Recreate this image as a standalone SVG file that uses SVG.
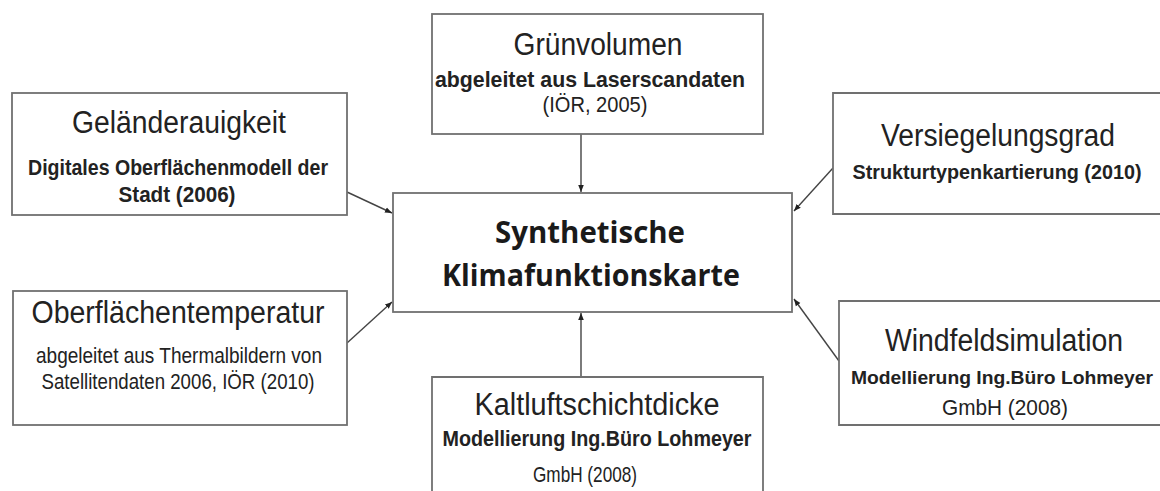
<svg xmlns="http://www.w3.org/2000/svg" width="1160" height="491" viewBox="0 0 1160 491">
  <style>
    .box { fill: #ffffff; stroke: #707070; stroke-width: 1.8; }
    .edge { fill: none; stroke: #707070; stroke-width: 1.8; }
    .title { font-family: "Liberation Sans", Arial, sans-serif; font-size: 31px; fill: #222222; text-anchor: middle; }
    .sub { font-family: "Liberation Sans", Arial, sans-serif; font-size: 22px; font-weight: bold; fill: #222222; text-anchor: middle; }
    .subn { font-family: "Liberation Sans", Arial, sans-serif; font-size: 20px; font-weight: bold; fill: #222222; text-anchor: middle; }
    .subs { font-family: "Liberation Sans", Arial, sans-serif; font-size: 18px; font-weight: bold; fill: #222222; text-anchor: middle; }
    .subr { font-family: "Liberation Sans", Arial, sans-serif; font-size: 22px; fill: #222222; text-anchor: middle; }
    .center { font-family: "Open Sans", "Noto Sans", sans-serif; font-size: 30px; font-weight: bold; fill: #1a1a1a; text-anchor: middle; }
    .conn { stroke: #444444; stroke-width: 1.4; fill: none; marker-end: url(#arrow); }
  </style>
  <defs>
    <marker id="arrow" viewBox="0 0 10 10" refX="10" refY="5" markerWidth="5" markerHeight="5" orient="auto" markerUnits="strokeWidth">
      <path d="M0,1 L10,5 L0,9 z" fill="#222222"/>
    </marker>
  </defs>
  <rect width="1160" height="491" fill="#ffffff"/>

  <g id="connectors">
    <line class="conn" x1="581" y1="134" x2="581" y2="192"/>
    <line class="conn" x1="347" y1="192" x2="392" y2="213"/>
    <line class="conn" x1="833" y1="168" x2="794" y2="211"/>
    <line class="conn" x1="347" y1="343" x2="392" y2="302"/>
    <line class="conn" x1="839" y1="361" x2="794" y2="299"/>
    <line class="conn" x1="581" y1="377" x2="581" y2="313"/>
  </g>

  <g id="node-gruenvolumen">
    <rect class="box" x="432" y="14" width="331" height="120"/>
    <text class="title" x="598" y="55" textLength="169" lengthAdjust="spacingAndGlyphs">Grünvolumen</text>
    <text class="sub" x="590" y="87" textLength="310" lengthAdjust="spacingAndGlyphs">abgeleitet aus Laserscandaten</text>
    <text class="subr" x="595" y="112" textLength="105" lengthAdjust="spacingAndGlyphs">(IÖR, 2005)</text>
  </g>

  <g id="node-gelaende">
    <rect class="box" x="12" y="93" width="335" height="122"/>
    <text class="title" x="179" y="133" textLength="214" lengthAdjust="spacingAndGlyphs">Geländerauigkeit</text>
    <text class="sub" x="178" y="175" textLength="300" lengthAdjust="spacingAndGlyphs">Digitales Oberflächenmodell der</text>
    <text class="sub" x="177" y="202" textLength="117" lengthAdjust="spacingAndGlyphs">Stadt (2006)</text>
  </g>

  <g id="node-versiegelung">
    <rect x="833" y="93" width="327" height="121" fill="#ffffff"/>
    <path class="edge" d="M1160,93 H833 V214 H1160"/>
    <text class="title" x="998" y="146" textLength="234" lengthAdjust="spacingAndGlyphs">Versiegelungsgrad</text>
    <text class="subn" x="997" y="179" textLength="289" lengthAdjust="spacingAndGlyphs">Strukturtypenkartierung (2010)</text>
  </g>

  <g id="node-synthetische">
    <rect class="box" x="393" y="193" width="399" height="119"/>
    <text class="center" x="590" y="243" textLength="190" lengthAdjust="spacingAndGlyphs">Synthetische</text>
    <text class="center" x="591" y="286" textLength="298" lengthAdjust="spacingAndGlyphs">Klimafunktionskarte</text>
  </g>

  <g id="node-oberflaeche">
    <rect class="box" x="13" y="291" width="334" height="134"/>
    <text class="title" x="178" y="323" textLength="293" lengthAdjust="spacingAndGlyphs">Oberflächentemperatur</text>
    <text class="subr" x="179" y="363" textLength="286" lengthAdjust="spacingAndGlyphs">abgeleitet aus Thermalbildern von</text>
    <text class="subr" x="178" y="389" textLength="273" lengthAdjust="spacingAndGlyphs">Satellitendaten 2006, IÖR (2010)</text>
  </g>

  <g id="node-windfeld">
    <rect x="839" y="301" width="321" height="124" fill="#ffffff"/>
    <path class="edge" d="M1160,301 H839 V425 H1160"/>
    <text class="title" x="1004" y="351" textLength="238" lengthAdjust="spacingAndGlyphs">Windfeldsimulation</text>
    <text class="subs" x="1002" y="384" textLength="302" lengthAdjust="spacingAndGlyphs">Modellierung Ing.Büro Lohmeyer</text>
    <text class="subr" x="1005" y="415" textLength="126" lengthAdjust="spacingAndGlyphs">GmbH (2008)</text>
  </g>

  <g id="node-kaltluft">
    <rect x="432" y="377" width="331" height="114" fill="#ffffff"/>
    <path class="edge" d="M432,491 V377 H763 V491"/>
    <text class="title" x="597" y="415" textLength="245" lengthAdjust="spacingAndGlyphs">Kaltluftschichtdicke</text>
    <text class="sub" x="597" y="446" textLength="309" lengthAdjust="spacingAndGlyphs">Modellierung Ing.Büro Lohmeyer</text>
    <text class="subr" x="585" y="482" textLength="104" lengthAdjust="spacingAndGlyphs">GmbH (2008)</text>
  </g>
</svg>
